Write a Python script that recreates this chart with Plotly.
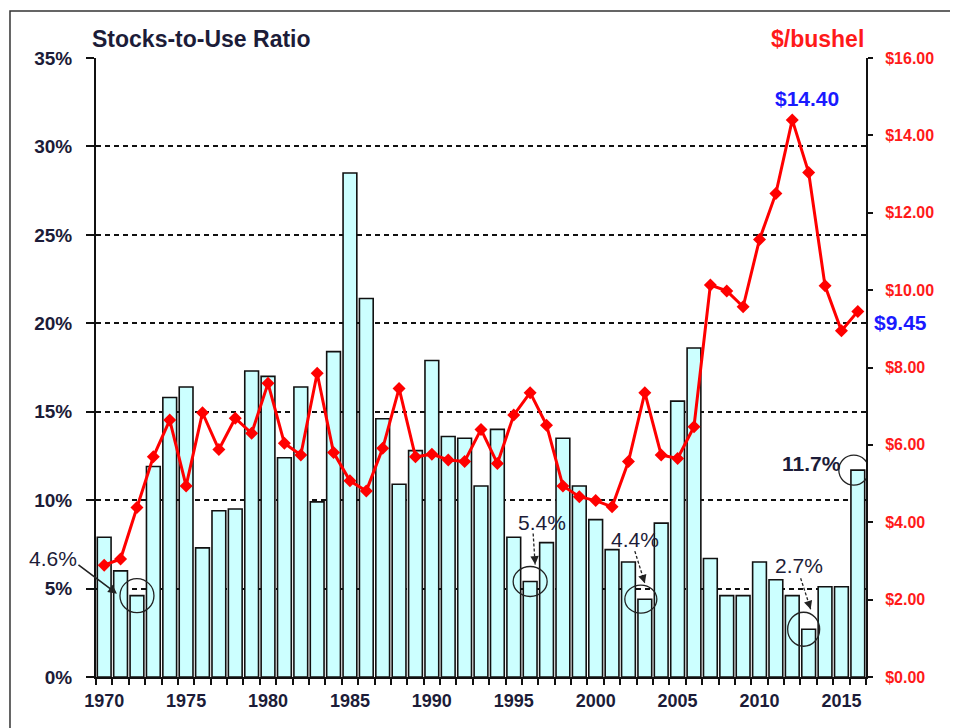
import plotly.graph_objects as go

years = list(range(1970, 2017))
stocks_to_use = [7.9, 6.0, 4.6, 11.9, 15.8, 16.4, 7.3, 9.4, 9.5, 17.3,
                 17.0, 12.4, 16.4, 9.9, 18.4, 28.5, 21.4, 14.6, 10.9, 12.8,
                 17.9, 13.6, 13.5, 10.8, 14.0, 7.9, 5.4, 7.6, 13.5, 10.8,
                 8.9, 7.2, 6.5, 4.4, 8.7, 15.6, 18.6, 6.7, 4.6, 4.6,
                 6.5, 5.5, 4.6, 2.7, 5.1, 5.1, 11.7]
price = [2.89, 3.05, 4.38, 5.69, 6.64, 4.94, 6.83, 5.88, 6.69, 6.30,
         7.59, 6.04, 5.74, 7.85, 5.80, 5.07, 4.81, 5.91, 7.46, 5.69,
         5.76, 5.61, 5.57, 6.40, 5.52, 6.77, 7.35, 6.51, 4.94, 4.66,
         4.56, 4.40, 5.57, 7.35, 5.74, 5.65, 6.47, 10.13, 9.98, 9.57,
         11.31, 12.50, 14.40, 13.04, 10.11, 8.95, 9.45]
x_tick_labels = [1970, 1975, 1980, 1985, 1990, 1995, 2000, 2005, 2010, 2015]
callout_years = [1972, 1996, 2003, 2013, 2016]

DARK = "#1c1c38"
FONT = "Liberation Sans, Arial, sans-serif"

fig = go.Figure()
fig.add_trace(go.Bar(
    x=years, y=stocks_to_use, yaxis="y",
    marker=dict(color="#ccffff", line=dict(color="#111111", width=1.6)),
    width=0.84, showlegend=False,
))
fig.add_trace(go.Scatter(
    x=years, y=price, yaxis="y2", mode="lines+markers",
    line=dict(color="#ff0000", width=3),
    marker=dict(symbol="diamond", size=10, color="#ff0000"),
    showlegend=False,
))

val = dict(zip(years, stocks_to_use))
pval = dict(zip(years, price))

annotations = []
shapes = []

# circles around low / latest stocks-to-use bars
circle_offsets = {1972: (0, 0, 17, 17), 1996: (0, 0, 17, 15), 2003: (-4, 0, 16, 14),
                  2013: (-5, 0, 16, 17), 2016: (-4, 0, 15, 15)}
for yr in callout_years:
    dx, dy, rx, ry = circle_offsets[yr]
    shapes.append(dict(type="circle", xref="x", yref="y",
                       xsizemode="pixel", ysizemode="pixel",
                       xanchor=yr, yanchor=val[yr],
                       x0=dx - rx, x1=dx + rx, y0=-dy - ry, y1=-dy + ry,
                       line=dict(color="#222222", width=1.3)))

def label(yr, text, dx, dy, bold=False, size=21):
    annotations.append(dict(
        x=yr, y=val[yr], xref="x", yref="y", xshift=dx, yshift=-dy,
        text=("<b>%s</b>" % text) if bold else text, showarrow=False,
        font=dict(family=FONT, size=size, color=DARK),
        xanchor="center", yanchor="middle"))

def dashed_arrow(yr, tail, head):
    tx, ty = tail
    hx, hy = head
    shapes.append(dict(type="line", xref="x", yref="y",
                       xsizemode="pixel", ysizemode="pixel",
                       xanchor=yr, yanchor=val[yr],
                       x0=tx, y0=-ty, x1=hx, y1=-hy,
                       line=dict(color="#222222", width=1.3, dash="3px,2px")))
    annotations.append(dict(
        x=yr, y=val[yr], xref="x", yref="y", xshift=hx, yshift=-hy,
        text="", showarrow=True, arrowhead=2, arrowsize=1.2, arrowwidth=1.4,
        arrowcolor="#222222", ax=(tx - hx) * 0.25, ay=(ty - hy) * 0.25,
        axref="pixel", ayref="pixel"))

# 1972: 4.6% with solid arrow
annotations.append(dict(
    x=1972, y=val[1972], xref="x", yref="y", xshift=-20, yshift=2,
    text="", showarrow=True, arrowhead=2, arrowsize=1.1, arrowwidth=1.6,
    arrowcolor="#222222", ax=-40, ay=-30))
label(1972, "4.6%", -84, -37)

label(1996, "5.4%", 12, -59)
dashed_arrow(1996, (3, -48), (5, -17))
label(2003, "4.4%", -10, -60)
dashed_arrow(2003, (-10, -48), (0, -16))
label(2013, "2.7%", -10, -64)
dashed_arrow(2013, (-8, -51), (2, -20))
label(2016, "11.7%", -46, -7, bold=True, size=21)

# price callouts
annotations.append(dict(x=2012, y=pval[2012], xref="x", yref="y2", xshift=15, yshift=21,
                        text="<b>$%.2f</b>" % pval[2012], showarrow=False,
                        font=dict(family=FONT, size=21, color="#1a1aff"),
                        xanchor="center", yanchor="middle"))
annotations.append(dict(x=2016, y=pval[2016], xref="x", yref="y2", xshift=43, yshift=-11,
                        text="<b>$%.2f</b>" % pval[2016], showarrow=False,
                        font=dict(family=FONT, size=21, color="#1a1aff"),
                        xanchor="center", yanchor="middle"))

# axis titles
annotations.append(dict(x=-0.008, y=1.03, xref="paper", yref="paper",
                        text="<b>Stocks-to-Use Ratio</b>", showarrow=False,
                        font=dict(family=FONT, size=23, color=DARK),
                        xanchor="left", yanchor="middle"))
annotations.append(dict(x=1.0, y=1.03, xref="paper", yref="paper",
                        text="<b>$/bushel</b>", showarrow=False,
                        font=dict(family=FONT, size=23, color="#ff1a1a"),
                        xanchor="right", yanchor="middle"))

# outer frame
shapes.append(dict(type="rect", xref="paper", yref="paper",
                   x0=-0.1117, x1=1.3, y0=-0.3, y1=1.0759,
                   line=dict(color="#333333", width=1.5), layer="below"))

fig.update_layout(
    width=950, height=720,
    margin=dict(l=88, r=92, t=50, b=51),
    paper_bgcolor="white", plot_bgcolor="white",
    bargap=0.16,
    xaxis=dict(range=[1969.5, 2016.5], tickmode="array", tickvals=x_tick_labels,
               ticks="", showline=True, linecolor="#111111", linewidth=2,
               showgrid=False, zeroline=False, ticklabelstandoff=6,
               tickfont=dict(family=FONT, size=18, color=DARK, weight="bold"),
               minor=dict(tickmode="linear", tick0=1969.5, dtick=1, ticks="outside",
                          ticklen=6, tickwidth=1.5, tickcolor="#111111", showgrid=False)),
    yaxis=dict(range=[0, 35], dtick=5, ticksuffix="%", ticks="outside", ticklen=8,
               tickwidth=1.5, tickcolor="#111111",
               showline=True, linecolor="#111111", linewidth=2,
               showgrid=True, gridcolor="#111111", gridwidth=1.5, griddash="5px,4px",
               zeroline=False, ticklabelstandoff=10,
               tickfont=dict(family=FONT, size=19, color=DARK, weight="bold")),
    yaxis2=dict(range=[0, 16], dtick=2, tickprefix="$", tickformat=".2f",
                overlaying="y", side="right", ticks="outside", ticklen=5,
                tickwidth=1.5, tickcolor="#111111",
                showline=True, linecolor="#111111", linewidth=2,
                showgrid=False, zeroline=False, ticklabelstandoff=9,
                tickfont=dict(family=FONT, size=16, color="#ff1a1a", weight="bold")),
    annotations=annotations, shapes=shapes,
)

fig.write_html("out.html")
